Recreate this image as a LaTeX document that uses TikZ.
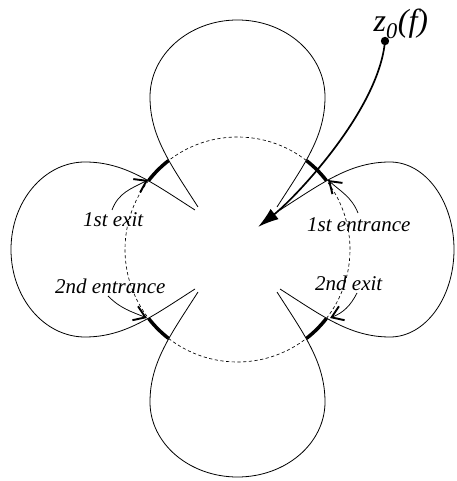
\documentclass[tikz,border=0pt]{standalone}
\usepackage{fontspec}
\setmainfont{Liberation Serif}
\usetikzlibrary{arrows.meta}
\newcommand\drawpetal[2]{%
  \draw[petalline, rotate=#1] (-39.5,42.5) .. controls (-66.4,84.6) and (-87.5,112.5) .. (-87.5,152.5)
   .. controls (-87.5,{152.5+0.5523*(#2-152.5)}) and (-48.3,#2) .. (0,#2)
   .. controls (48.3,#2) and (87.5,{152.5+0.5523*(#2-152.5)}) .. (87.5,152.5)
   .. controls (87.5,112.5) and (66.4,84.6) .. (39.5,42.5);}
\begin{document}
\begin{tikzpicture}[x=1pt,y=1pt,
  petalline/.style={line width=0.8pt},
  dashcircle/.style={line width=0.65pt, dash pattern=on 3.2pt off 2.5pt},
  thickarc/.style={line width=3.5pt},
  lbl/.style={font=\fontsize{21}{25}\selectfont\itshape, inner sep=0pt, anchor=base west},
  smallarrow/.style={line width=0.75pt, -{Straight Barb[length=11pt,width=15pt,line width=1.9pt]}},
  bigarrow/.style={line width=1.7pt, -{Latex[length=21pt,width=13pt]}}
]
\useasboundingbox (-237.5,-231.5) rectangle (218.5,249.5);
% petals
\drawpetal{0}{229.5}
\drawpetal{90}{226.5}
\drawpetal{180}{227.5}
\drawpetal{-90}{216.5}
% dashed circle
\draw[dashcircle] (0,0) circle[radius=112.5];
% thick arcs
\foreach \a in {37.8,127.8,217.8,307.8}
  \draw[thickarc] (\a:112.5) arc[start angle=\a, delta angle=14.4, radius=112.5];
% crossing points
\coordinate (t1x) at (-89.5,69.5);
\coordinate (t1e) at (90.5,69.5);
\coordinate (t2x) at (92.5,-68.5);
\coordinate (t2e) at (-90.5,-68.5);
% labels
\node[lbl] (l1x) at (-154.5,22.5) {1st exit};
\node[lbl] (l1e) at (69.5,17.5) {1st entrance};
\node[lbl] (l2e) at (-182.5,-44.5) {2nd entrance};
\node[lbl] (l2x) at (77.5,-41.5) {2nd exit};
\node[font=\fontsize{32}{36}\selectfont\itshape, inner sep=0pt, anchor=base west] (z0) at (136,217.5) {z\textsubscript{0}(f)};
% small arrows
\coordinate (s1x) at (-125.5,39.5);
\coordinate (s1e) at (120.5,36.5);
\coordinate (s2x) at (119.5,-43.5);
\coordinate (s2e) at (-129.5,-46.5);
\draw[smallarrow] (s1x) to[out=70,in=207] (t1x);
\draw[smallarrow] (s1e) to[out=112,in=-42] (t1e);
\draw[smallarrow] (s2x) to[out=243,in=22] (t2x);
\draw[smallarrow] (s2e) to[out=-45,in=158] (t2e);
% big arrow
\coordinate (zdot) at (147.5,208.5);
\coordinate (ztip) at (20.5,22.5);
\draw[bigarrow] (zdot) .. controls (141.4,138.8) and (56,50.2) .. (ztip);
\fill (zdot) circle[radius=4.2];
\end{tikzpicture}
\end{document}
